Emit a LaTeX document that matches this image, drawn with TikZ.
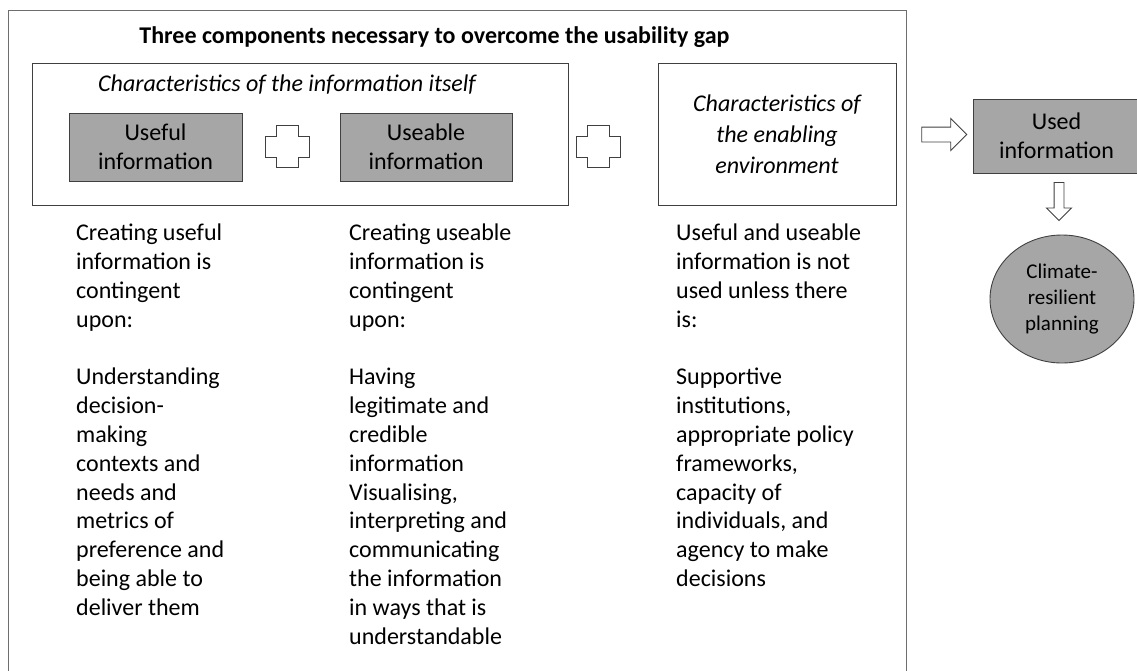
\documentclass[tikz,border=0pt]{standalone}
\usepackage{fontspec}
\setmainfont{Carlito}
\usetikzlibrary{shapes.geometric,shapes.arrows}

\definecolor{boxgray}{HTML}{A6A6A6}
\definecolor{edgegray}{HTML}{404040}
\definecolor{framegray}{HTML}{6E6E6E}

\tikzset{
  frame/.style={draw=edgegray, line width=0.9pt},
  infobox/.style={draw=edgegray, line width=0.9pt, fill=boxgray, align=center,
    inner sep=0pt, font=\fontsize{24}{29}\selectfont},
  plusshape/.style={draw=edgegray, fill=white, line width=0.9pt, line join=miter},
  blockarrow/.style={single arrow, draw=edgegray, fill=white, line width=0.9pt,
    inner xsep=0pt, single arrow tip angle=90},
  coltext/.style={anchor=north west, align=left, inner sep=0pt,
    font=\fontsize{24}{28.8}\selectfont},
}

\begin{document}
\begin{tikzpicture}[x=1pt, y=-1pt]
  \useasboundingbox (0,0) rectangle (1137,670);

  % outer frame, open at the bottom
  \draw[draw=framegray, line width=0.9pt] (8,672) -- (8,10) -- (906,10) -- (906,672);
  \node[anchor=base, font=\fontsize{24}{29}\selectfont\bfseries] (title) at (434.5,43)
    {Three components necessary to overcome the usability gap};

  % information itself
  \node[frame, minimum width=536pt, minimum height=142pt] (itself) at (300,134) {};
  \node[font=\fontsize{24}{29}\selectfont\itshape] (itselflbl) at (287,85)
    {Characteristics of the information itself};
  \node[infobox, minimum width=173pt, minimum height=68pt] (useful) at (155.5,147)
    {Useful\\information};
  \node[infobox, minimum width=172pt, minimum height=68pt] (useable) at (426,147)
    {Useable\\information};

  % enabling environment
  \node[frame, minimum width=238pt, minimum height=142pt, align=center,
    font=\fontsize{24}{31}\selectfont\itshape] (env) at (777,134)
    {Characteristics of\\the enabling\\environment};

  % the two plus signs
  \foreach \cx in {287,598} {
    \draw[plusshape] (\cx-11,125) -- (\cx+11,125) -- (\cx+11,136) -- (\cx+22,136)
      -- (\cx+22,157) -- (\cx+11,157) -- (\cx+11,167) -- (\cx-11,167)
      -- (\cx-11,157) -- (\cx-22,157) -- (\cx-22,136) -- (\cx-11,136) -- cycle;
  }

  % result side
  \node[infobox, minimum width=167pt, minimum height=74pt] (used) at (1056.5,136)
    {Used\\information};
  \node[blockarrow, minimum height=45pt, inner ysep=7pt,
    single arrow head extend=8.5pt] (toused) at (940.5,134.5) {};
  \node[blockarrow, minimum height=38pt, inner ysep=4.5pt,
    single arrow head extend=7.5pt, rotate=-90] (toplan) at (1059,199) {};
  \node[ellipse, draw=edgegray, line width=0.9pt, fill=boxgray, minimum width=144pt,
    minimum height=128pt, inner sep=0pt, align=center,
    font=\fontsize{21}{26}\selectfont] (plan) at (1062,299)
    {Climate-\\resilient\\planning};

  % three text columns
  \node[coltext] (usefultxt) at (76,224)
    {Creating useful\\information is\\contingent\\upon:\\[28.8pt]Understanding\\decision-\\making\\contexts and\\needs and\\metrics of\\preference and\\being able to\\deliver them};
  \node[coltext] (useabletxt) at (349,224)
    {Creating useable\\information is\\contingent\\upon:\\[28.8pt]Having\\legitimate and\\credible\\information\\Visualising,\\interpreting and\\communicating\\the information\\in ways that is\\understandable};
  \node[coltext] (envtxt) at (676,224)
    {Useful and useable\\information is not\\used unless there\\is:\\[28.8pt]Supportive\\institutions,\\appropriate policy\\frameworks,\\capacity of\\individuals, and\\agency to make\\decisions};
\end{tikzpicture}
\end{document}
